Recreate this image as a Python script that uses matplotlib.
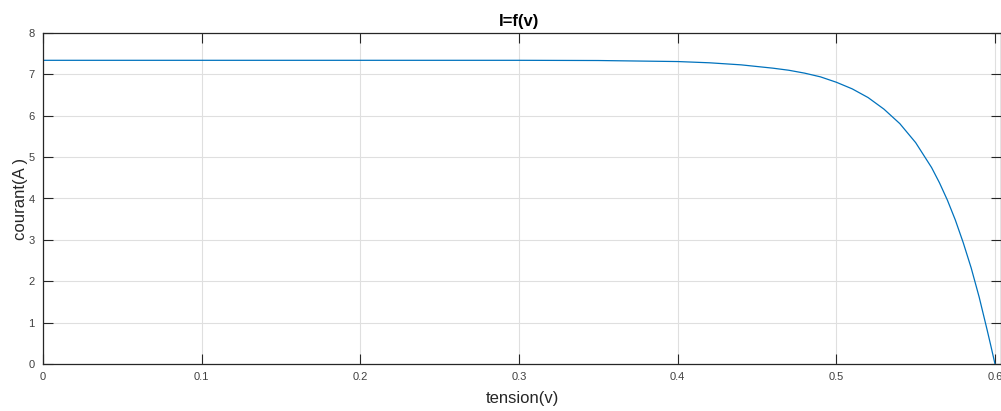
import matplotlib
matplotlib.use("Agg")
from matplotlib import pyplot as plt

# values
tension = [0.0, 0.1, 0.2, 0.3, 0.35, 0.40, 0.42, 0.44, 0.46, 0.47, 0.48,
           0.49, 0.50, 0.51, 0.52, 0.53, 0.54, 0.55, 0.56, 0.565, 0.57,
           0.575, 0.58, 0.585, 0.59, 0.595, 0.5975, 0.600]
courant = [7.34, 7.34, 7.34, 7.34, 7.335, 7.31, 7.28, 7.23, 7.15, 7.10, 7.03,
           6.94, 6.81, 6.65, 6.44, 6.16, 5.81, 5.35, 4.75, 4.38, 3.96,
           3.48, 2.93, 2.32, 1.62, 0.83, 0.42, 0.0]

x_ticks = [0, 0.1, 0.2, 0.3, 0.4, 0.5, 0.6]
x_labels = ["0", "0.1", "0.2", "0.3", "0.4", "0.5", "0.6"]
y_ticks = [0, 1, 2, 3, 4, 5, 6, 7, 8]

plt.rcParams['font.family'] = ['Liberation Sans', 'DejaVu Sans']
dark = '#262626'

fig = plt.figure(figsize=(10.01, 4.11), dpi=100)
ax = fig.add_axes([43 / 1001, 47 / 411, 958 / 1001, 331 / 411])

ax.plot(tension, courant, color='#0072BD', lw=0.9)

ax.set_xlim(0, 0.6 * 958 / 952)
ax.set_ylim(0, 8)
ax.set_xticks(x_ticks)
ax.set_xticklabels(x_labels)
ax.set_yticks(y_ticks)

ax.grid(True, color='#dfdfdf', lw=0.8)
ax.set_axisbelow(True)
for s in ax.spines.values():
    s.set_color(dark)
    s.set_linewidth(0.9)
ax.tick_params(direction='in', length=7, width=0.8, colors=dark,
               labelsize=8, top=True, right=True, pad=6)
for lbl in ax.get_xticklabels() + ax.get_yticklabels():
    lbl.set_color('#404040')

ax.set_xlabel('tension(v)', fontsize=12, color=dark, labelpad=6)
ax.set_ylabel('courant(A )', fontsize=12, color=dark, labelpad=0)
ax.set_title('I=f(v)', fontsize=12, fontweight='bold', color='black', pad=5,
             x=0.497)

fig.savefig('out.png', dpi=100)
